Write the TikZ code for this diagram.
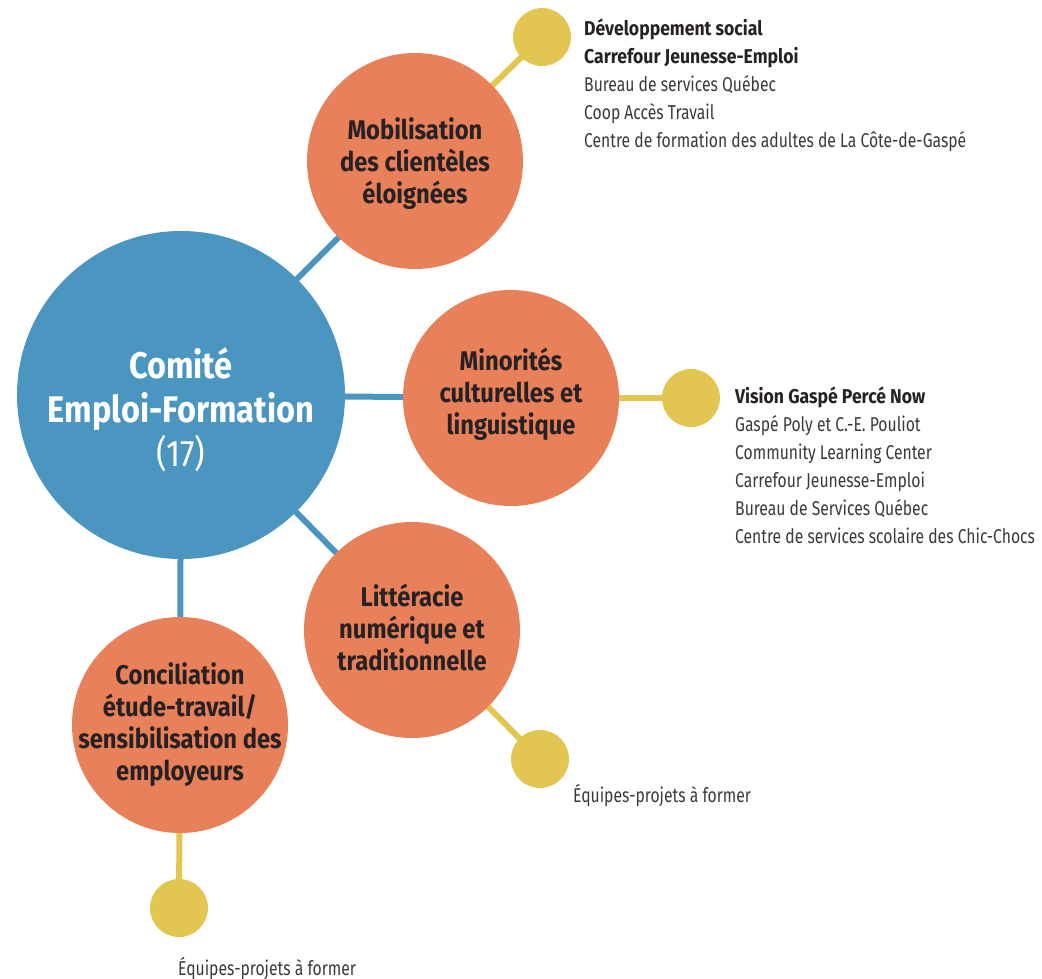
\documentclass[tikz,border=0pt]{standalone}
\usepackage{fontspec}
\setmainfont{Fira Sans}[FakeStretch=0.785]
\newfontfamily\circfont{Fira Sans}[FakeStretch=0.88]
\usetikzlibrary{backgrounds}
\definecolor{cblue}{HTML}{4A96C1}
\definecolor{corange}{HTML}{E8805A}
\definecolor{cyellow}{HTML}{E3C652}
\definecolor{ctext}{HTML}{262122}
\definecolor{clist}{HTML}{3A3A3A}
\tikzset{
  bigc/.style={circle, fill=cblue, minimum size=328pt, inner sep=0pt},
  orc/.style={circle, fill=corange, minimum size=216pt, inner sep=0pt},
  ortext/.style={align=center, inner sep=0pt, text=ctext,
    font=\circfont\fontsize{27}{32}\selectfont\bfseries},
  dot/.style={circle, fill=cyellow, minimum size=58pt, inner sep=0pt},
  bline/.style={draw=cblue, line width=6pt},
  yline/.style={draw=cyellow, line width=6pt},
  list/.style={anchor=base west, align=left, inner sep=0pt, text=clist,
    font=\fontsize{20}{28}\selectfont},
  hd/.style={font=\circfont\fontsize{20}{28}\selectfont\bfseries},
}
\newcommand{\hdline}[1]{{\circfont\bfseries\color{ctext}#1}}
\begin{document}
\begin{tikzpicture}[x=1pt,y=-1pt]
\useasboundingbox (0,0) rectangle (1042,979);
\node[bigc] (c) at (181,395) {};
\node[align=center, text=white, font=\circfont\fontsize{37}{44}\selectfont] (ct) at (181,410)
  {\textbf{Comité}\\\textbf{Emploi-Formation}\\(17)};
\node[orc] (m1) at (415,161) {};
\node[orc] (m2) at (511,398) {};
\node[orc] (m3) at (412,630) {};
\node[orc] (m4) at (180,725) {};
\node[ortext] (m1t) at (415,164) {Mobilisation\\des clientèles\\éloignées};
\node[ortext] (m2t) at (511,394) {Minorités\\culturelles et\\linguistique};
\node[ortext] (m3t) at (412,627) {Littéracie\\numérique et\\traditionnelle};
\node[ortext] (m4t) at (180,725) {Conciliation\\étude-travail/\\sensibilisation des\\employeurs};
\node[dot] (d1) at (542,37) {};
\node[dot] (d2) at (691,398) {};
\node[dot] (d3) at (540,759) {};
\node[dot] (d4) at (179,908) {};
\begin{scope}[on background layer]
  \path[bline] (c.center) -- (m1.center);
  \path[bline] (c.center) -- (m2.center);
  \path[bline] (c.center) -- (m3.center);
  \path[bline] (c.center) -- (m4.center);
  \path[yline] (m1.center) -- (d1.center);
  \path[yline] (m2.center) -- (d2.center);
  \path[yline] (m3.center) -- (d3.center);
  \path[yline] (m4.center) -- (d4.center);
\end{scope}
\node[list] (t1) at (584,148) {\hdline{Développement social}\\\hdline{Carrefour Jeunesse-Emploi}\\Bureau de services Québec\\Coop Accès Travail\\Centre de formation des adultes de La Côte-de-Gaspé};
\node[list] (t2) at (735,543) {\hdline{Vision Gaspé Percé Now}\\Gaspé Poly et C.-E. Pouliot\\Community Learning Center\\Carrefour Jeunesse-Emploi\\Bureau de Services Québec\\Centre de services scolaire des Chic-Chocs};
\node[list] (t3) at (573,802) {Équipes-projets à former};
\node[list] (t4) at (178,975) {Équipes-projets à former};
\end{tikzpicture}
\end{document}
